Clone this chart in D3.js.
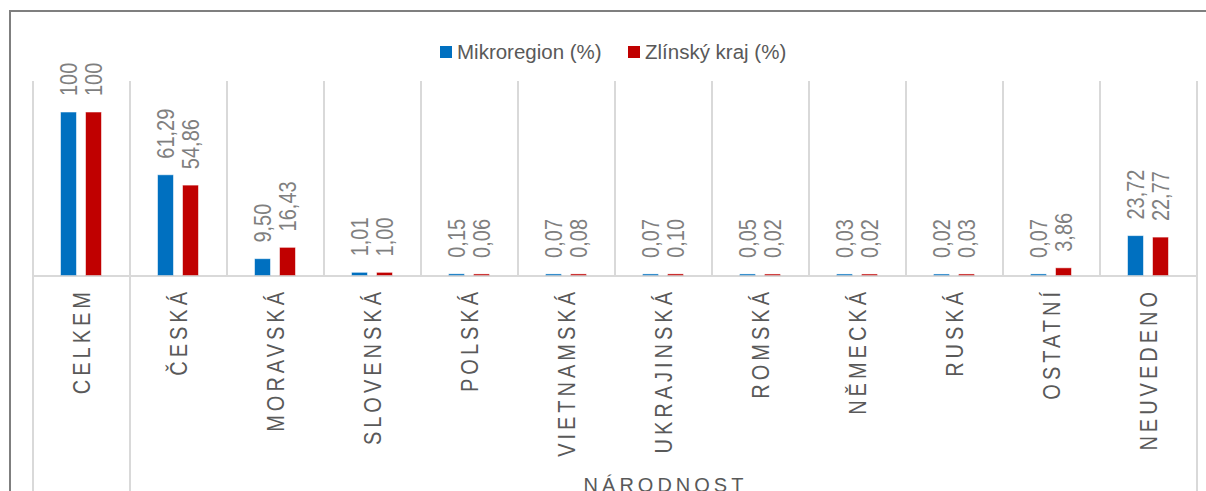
<!DOCTYPE html>
<html>
<head>
<meta charset="utf-8">
<script src="https://cdn.jsdelivr.net/npm/d3@7/dist/d3.min.js"></script>
<style>
    body { margin: 0; background: #ffffff; }
    text { font-family: "Liberation Sans", Arial, sans-serif; }
</style>
</head>
<body>
<svg id="chart" width="1206" height="491"></svg>
<script>
// chart data
var categories = ["CELKEM", "ČESKÁ", "MORAVSKÁ", "SLOVENSKÁ", "POLSKÁ", "VIETNAMSKÁ",
    "UKRAJINSKÁ", "ROMSKÁ", "NĚMECKÁ", "RUSKÁ", "OSTATNÍ", "NEUVEDENO"];
var mikroregion = [100, 61.29, 9.50, 1.01, 0.15, 0.07, 0.07, 0.05, 0.03, 0.02, 0.07, 23.72];
var zlinskyKraj = [100, 54.86, 16.43, 1.00, 0.06, 0.08, 0.10, 0.02, 0.02, 0.03, 3.86, 22.77];
var seriesNames = ["Mikroregion (%)", "Zlínský kraj (%)"];
var seriesColors = ["#0070c0", "#c00000"];
var groupLabel = "NÁRODNOST";

var renderingParams = {
    left: 33,
    right: 1197,
    top: 81,
    baseline: 275,
    gridColor: "#d9d9d9"
};

var svg = d3.select("#chart");

// outer frame (only left and top edges are inside the picture)
svg.append("rect")
    .attr("x", 10)
    .attr("y", 11)
    .attr("width", 1230)
    .attr("height", 530)
    .attr("fill", "none")
    .attr("stroke", "#7f7f7f")
    .attr("stroke-width", 2);

var x0 = d3.scaleBand()
    .domain(categories)
    .range([renderingParams.left, renderingParams.right])
    .padding(0);

var x1 = d3.scaleBand()
    .domain(seriesNames)
    .range([28, 68])
    .paddingInner(0.4)
    .paddingOuter(0);

var y = d3.scaleLinear()
    .domain([0, 100])
    .range([renderingParams.baseline, 113]);

var rows = categories.map(function(c, i) {
    return {
        cat: c,
        values: [
            { name: seriesNames[0], value: mikroregion[i], color: seriesColors[0] },
            { name: seriesNames[1], value: zlinskyKraj[i], color: seriesColors[1] }
        ]
    };
});

// vertical grid lines between categories
var edges = categories.map(function(c) { return x0(c); }).concat([renderingParams.right]);
svg.append("g").attr("id", "gridLayer")
    .selectAll("line")
    .data(edges)
    .enter()
    .append("line")
    .attr("x1", function(d) { return d; })
    .attr("x2", function(d) { return d; })
    .attr("y1", renderingParams.top)
    .attr("y2", function(d, i) {
        // first, second and last lines run through the category axis
        return (i === 0 || i === 1 || i === edges.length - 1) ? 500 : renderingParams.baseline;
    })
    .attr("stroke", renderingParams.gridColor)
    .attr("stroke-width", 2);

// x axis baseline
svg.append("line")
    .attr("x1", renderingParams.left)
    .attr("x2", renderingParams.right)
    .attr("y1", renderingParams.baseline + 1)
    .attr("y2", renderingParams.baseline + 1)
    .attr("stroke", renderingParams.gridColor)
    .attr("stroke-width", 2);

// bars
var groups = svg.append("g").attr("id", "barLayer")
    .selectAll("g")
    .data(rows)
    .enter()
    .append("g")
    .attr("transform", function(d) {
        return "translate(" + x0(d.cat) + ",0)";
    });

groups.selectAll("rect")
    .data(function(d) { return d.values; })
    .enter()
    .append("rect")
    .attr("x", function(d) { return x1(d.name); })
    .attr("y", function(d) { return y(d.value) - 0.5; })
    .attr("width", x1.bandwidth())
    .attr("height", function(d) { return renderingParams.baseline - y(d.value) + 0.5; })
    .attr("fill", function(d) { return d.color; })
    .attr("stroke", function(d) { return d.color; })
    .attr("stroke-opacity", 0.45)
    .attr("stroke-width", 1);

// data labels
groups.selectAll("text")
    .data(function(d) { return d.values; })
    .enter()
    .append("text")
    .attr("transform", function(d) {
        var cx = x1(d.name) + x1.bandwidth() / 2;
        return "translate(" + cx + "," + (y(d.value) - 17) + ") rotate(-90) scale(1,1.17)";
    })
    .attr("dy", "0.36em")
    .attr("text-anchor", "start")
    .attr("font-size", 20)
    .attr("fill", "#7f7f7f")
    .text(function(d) {
        return d.value === 100 ? "100" : d.value.toFixed(2).replace(".", ",");
    });

// category labels
svg.append("g").attr("id", "catLabels")
    .selectAll("text")
    .data(categories)
    .enter()
    .append("text")
    .attr("transform", function(d) {
        return "translate(" + (x0(d) + x0.bandwidth() / 2) + ",288) rotate(-90) scale(1,1.19)";
    })
    .attr("dy", "0.36em")
    .attr("text-anchor", "end")
    .attr("font-size", 20)
    .attr("letter-spacing", "4px")
    .attr("fill", "#595959")
    .text(function(d) { return d; });

// group label
svg.append("text")
    .attr("x", (x0(categories[1]) + renderingParams.right) / 2 + 2)
    .attr("y", 492)
    .attr("text-anchor", "middle")
    .attr("font-size", 20)
    .attr("letter-spacing", "4px")
    .attr("fill", "#595959")
    .text(groupLabel);

// legend
var legendX = [440, 628];
var legend = svg.append("g").attr("id", "legend")
    .selectAll("g")
    .data(seriesNames)
    .enter()
    .append("g")
    .attr("transform", function(d, i) {
        return "translate(" + legendX[i] + ",46)";
    });

legend.append("rect")
    .attr("width", 12)
    .attr("height", 12)
    .attr("fill", function(d, i) { return seriesColors[i]; });

legend.append("text")
    .attr("x", 17)
    .attr("y", 13)
    .attr("font-size", 20.5)
    .attr("fill", "#595959")
    .text(function(d) { return d; });
</script>
</body>
</html>
